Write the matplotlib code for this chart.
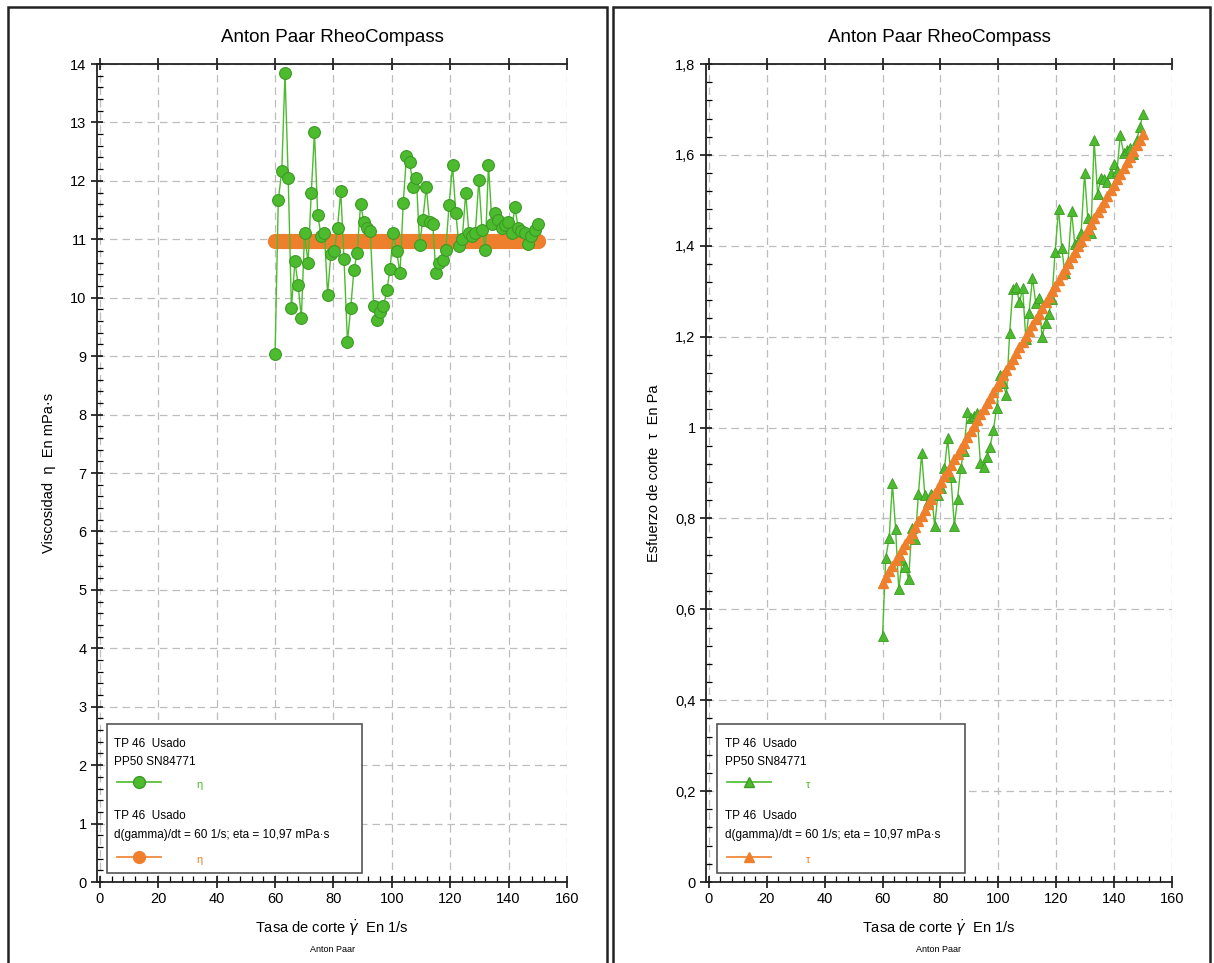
import matplotlib
matplotlib.use("Agg")
import matplotlib.pyplot as plt
from matplotlib.patches import Rectangle
from matplotlib.lines import Line2D
from matplotlib.ticker import MultipleLocator, FuncFormatter

# shear rate points (1/s)
shear = [60.0, 61.1, 62.3, 63.4, 64.5, 65.6, 66.8, 67.9, 69.0, 70.1,
         71.3, 72.4, 73.5, 74.6, 75.8, 76.9, 78.0, 79.1, 80.3, 81.4,
         82.5, 83.6, 84.8, 85.9, 87.0, 88.1, 89.3, 90.4, 91.5, 92.6,
         93.8, 94.9, 96.0, 97.1, 98.3, 99.4, 100.5, 101.6, 102.8, 103.9,
         105.0, 106.1, 107.3, 108.4, 109.5, 110.6, 111.8, 112.9, 114.0, 115.1,
         116.3, 117.4, 118.5, 119.6, 120.8, 121.9, 123.0, 124.1, 125.3, 126.4,
         127.5, 128.6, 129.8, 130.9, 132.0, 133.1, 134.3, 135.4, 136.5, 137.6,
         138.8, 139.9, 141.0, 142.1, 143.3, 144.4, 145.5, 146.6, 147.8, 148.9,
         150.0]

# measured viscosity (mPa·s)
eta = [9.03, 11.67, 12.17, 13.85, 12.05, 9.82, 10.62, 10.22, 9.65, 11.1,
       10.6, 11.8, 12.83, 11.42, 11.05, 11.1, 10.05, 10.75, 10.8, 11.2,
       11.83, 10.67, 9.25, 9.82, 10.47, 10.76, 11.6, 11.3, 11.2, 11.15,
       9.85, 9.62, 9.75, 9.85, 10.13, 10.5, 11.1, 10.8, 10.42, 11.62,
       12.42, 12.33, 11.9, 12.05, 10.91, 11.33, 11.9, 11.3, 11.27, 10.42,
       10.59, 10.65, 10.82, 11.59, 12.27, 11.45, 10.89, 11.0, 11.79, 11.1,
       11.05, 11.1, 12.02, 11.16, 10.82, 12.27, 11.27, 11.45, 11.33, 11.2,
       11.25, 11.3, 11.1, 11.56, 11.2, 11.15, 11.1, 10.92, 11.05, 11.16,
       11.27]

# measured shear stress (Pa)
tau = [0.542, 0.713, 0.758, 0.878, 0.777, 0.644, 0.709, 0.694, 0.666, 0.778,
       0.755, 0.854, 0.943, 0.852, 0.837, 0.853, 0.784, 0.851, 0.867, 0.911,
       0.976, 0.892, 0.784, 0.843, 0.911, 0.948, 1.035, 1.021, 1.025, 1.033,
       0.923, 0.913, 0.936, 0.957, 0.995, 1.043, 1.116, 1.098, 1.071, 1.207,
       1.304, 1.309, 1.276, 1.306, 1.195, 1.253, 1.330, 1.275, 1.285, 1.200,
       1.231, 1.250, 1.282, 1.386, 1.482, 1.395, 1.339, 1.365, 1.477, 1.403,
       1.409, 1.428, 1.560, 1.461, 1.428, 1.633, 1.513, 1.550, 1.547, 1.541,
       1.561, 1.581, 1.565, 1.643, 1.604, 1.610, 1.615, 1.601, 1.633, 1.661,
       1.691]

# Newtonian model: eta = 10,97 mPa·s
eta_fit = 10.97
eta_model = [eta_fit for g in shear]
tau_model = [eta_fit * g / 1000 for g in shear]

green = "#4cbb2e"
green_dark = "#3c9a24"
orange = "#ee7f2d"
grid_col = "#bdbdbd"

plt.rcParams["font.family"] = ["Liberation Sans", "DejaVu Sans"]

fig = plt.figure(figsize=(12.14, 9.63), dpi=100)

# panel frames
fig.add_artist(Rectangle((8 / 1214, -0.01), 599 / 1214, 1 - 7 / 963 + 0.01,
                         transform=fig.transFigure, fill=False, lw=1.8, ec="#222222"))
fig.add_artist(Rectangle((613 / 1214, -0.01), 597 / 1214, 1 - 7 / 963 + 0.01,
                         transform=fig.transFigure, fill=False, lw=1.8, ec="#222222"))

ax1 = fig.add_axes([97 / 1214, 81 / 963, 470 / 1214, 818 / 963])
ax2 = fig.add_axes([706 / 1214, 81 / 963, 466 / 1214, 818 / 963])


def comma(v, pos):
    s = "%g" % round(v, 2)
    return s.replace(".", ",")


def style(ax, ymax, ymajor, yminor):
    ax.set_xlim(-1, 160)
    ax.set_ylim(0, ymax)
    ax.xaxis.set_major_locator(MultipleLocator(20))
    ax.xaxis.set_minor_locator(MultipleLocator(4))
    ax.yaxis.set_major_locator(MultipleLocator(ymajor))
    ax.yaxis.set_minor_locator(MultipleLocator(yminor))
    ax.yaxis.set_major_formatter(FuncFormatter(comma))
    ax.grid(True, which="major", ls=(0, (6, 4)), color=grid_col, lw=0.9)
    ax.set_axisbelow(True)
    for s in ["left", "bottom", "top"]:
        ax.spines[s].set_color("#222222")
        ax.spines[s].set_linewidth(1.3)
    ax.spines["right"].set_visible(False)
    ax.tick_params(which="major", direction="inout", length=8, width=1.1,
                   labelsize=10.5)
    ax.tick_params(which="minor", direction="in", length=4, width=0.9)
    ax.tick_params(axis="x", which="major", top=True, labeltop=False)
    ax.set_title("Anton Paar RheoCompass", fontsize=13.5, pad=16)
    ax.set_xlabel(r"Tasa de corte $\dot{\gamma}$  En 1/s", fontsize=10.5, labelpad=8)
    ax.text(0.5, -0.083, "Anton Paar", transform=ax.transAxes, ha="center",
            va="center", fontsize=6.5)


# left: viscosity
ax1.plot(shear, eta_model, color=orange, lw=2, marker="o", ms=10,
         mec=orange, mfc=orange, zorder=2)
ax1.plot(shear, eta, color=green, lw=1, marker="o", ms=8.5,
         mfc=green, mec=green_dark, mew=0.8, zorder=3)
style(ax1, 14, 1, 0.2)
ax1.set_ylabel("Viscosidad  η  En mPa·s", fontsize=10.5, labelpad=10)

# right: shear stress
ax2.plot(shear, tau, color=green, lw=1, marker="^", ms=7.5,
         mfc=green, mec=green_dark, mew=0.6, zorder=2)
ax2.plot(shear, tau_model, color=orange, lw=1.5, marker="^", ms=6.5,
         mfc=orange, mec=orange, zorder=3)
style(ax2, 1.8, 0.2, 0.04)
ax2.set_ylabel("Esfuerzo de corte  τ  En Pa", fontsize=10.5, labelpad=10)


def legend_box(ax, x0, x1, sym):
    ax.add_patch(Rectangle((x0, 0.011), x1 - x0, 0.182, transform=ax.transAxes,
                           fc="white", ec="#555555", lw=1.2, zorder=5))
    lines = [("TP 46  Usado", 0.169), ("PP50 SN84771", 0.147),
             ("TP 46  Usado", 0.081),
             ("d(gamma)/dt = 60 1/s; eta = 10,97 mPa·s", 0.057)]
    for t, y in lines:
        ax.text(x0 + 0.016, y, t, transform=ax.transAxes, fontsize=8.5,
                va="center", ha="left", zorder=6)
    lab = "η" if sym == "o" else "τ"
    ms = 8.5 if sym == "o" else 7
    for y, c, ec in [(0.122, green, green_dark), (0.031, orange, orange)]:
        ax.add_line(Line2D([x0 + 0.022, x0 + 0.115], [y, y], color=c, lw=1.2,
                           transform=ax.transAxes, zorder=6))
        ax.add_line(Line2D([x0 + 0.0685], [y], color=c, marker=sym, ms=ms,
                           mfc=c, mec=ec, transform=ax.transAxes, zorder=7))
        ax.text(x0 + 0.19, y - 0.004, lab, transform=ax.transAxes, color=c,
                fontsize=8, va="center", zorder=6)


legend_box(ax1, 0.021, 0.564, "o")
legend_box(ax2, 0.024, 0.556, "^")

fig.savefig("out.png", dpi=100)
